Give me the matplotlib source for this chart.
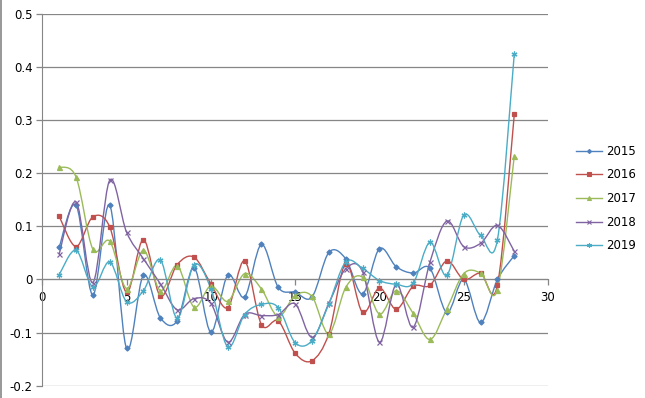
import numpy as np
import matplotlib
matplotlib.use('Agg')
import matplotlib.pyplot as plt
from matplotlib.path import Path
from matplotlib.patches import PathPatch
from matplotlib.lines import Line2D
from matplotlib.ticker import FuncFormatter

# data, x = 1..28
x = list(range(1, 29))
y2015 = [0.061, 0.14, -0.029, 0.14, -0.13, 0.008, -0.072, -0.078, 0.022, -0.099,
         0.008, -0.033, 0.066, -0.015, -0.024, -0.033, 0.051, 0.039, -0.027, 0.058,
         0.024, 0.012, 0.021, -0.062, 0.0, -0.081, 0.0, 0.045]
y2016 = [0.119, 0.062, 0.118, 0.099, -0.024, 0.075, -0.031, 0.028, 0.042, -0.008,
         -0.053, 0.035, -0.085, -0.078, -0.139, -0.153, -0.102, 0.030, -0.062, -0.016,
         -0.056, -0.013, -0.011, 0.035, 0.0, 0.012, -0.011, 0.311]
y2017 = [0.212, 0.193, 0.057, 0.072, -0.017, 0.055, -0.021, 0.026, -0.052, -0.012,
         -0.041, 0.011, -0.018, -0.07, -0.03, -0.032, -0.102, -0.015, 0.004, -0.065,
         -0.021, -0.064, -0.113, -0.055, 0.011, 0.012, -0.019, 0.233]
y2018 = [0.048, 0.146, -0.006, 0.187, 0.089, 0.039, -0.008, -0.057, -0.036, -0.045,
         -0.118, -0.066, -0.068, -0.066, -0.046, -0.109, -0.045, 0.02, 0.015, -0.118,
         -0.009, -0.09, 0.033, 0.11, 0.062, 0.068, 0.102, 0.053]
y2019 = [0.009, 0.055, -0.014, 0.033, -0.042, -0.021, 0.037, -0.073, 0.028, -0.017,
         -0.127, -0.066, -0.047, -0.053, -0.119, -0.115, -0.046, 0.033, 0.021, -0.002,
         -0.009, -0.007, 0.07, 0.008, 0.121, 0.083, 0.075, 0.425]

labels = ['2015', '2016', '2017', '2018', '2019']
series = [y2015, y2016, y2017, y2018, y2019]
colors = ['#4F81BD', '#C0504D', '#9BBB59', '#8064A2', '#4BACC6']
markers = ['D', 's', '^', 'x', (6, 2, 0)]
msizes = [2.6, 3.2, 3.6, 3.6, 4.2]


def smooth_path(xs, ys):
    # excel-like smoothed line: bezier segments, catmull-rom control points
    pts = np.column_stack([xs, ys]).astype(float)
    p = np.vstack([pts[0], pts, pts[-1]])
    verts = [pts[0]]
    codes = [Path.MOVETO]
    for i in range(1, len(p) - 2):
        c1 = p[i] + (p[i + 1] - p[i - 1]) / 6
        c2 = p[i + 1] - (p[i + 2] - p[i]) / 6
        verts += [c1, c2, p[i + 1]]
        codes += [Path.CURVE4] * 3
    return Path(verts, codes)


plt.rcParams['font.family'] = 'DejaVu Sans'
fig = plt.figure(figsize=(6.45, 3.98), dpi=100)
ax = fig.add_axes([0.0656, 0.031, 0.7840, 0.9338])

grid_c = '#868686'
for gy in np.arange(-0.2, 0.51, 0.1):
    ax.axhline(gy, color=grid_c, lw=0.9, zorder=0)

handles = []
for ys, lab, c, m, ms in zip(series, labels, colors, markers, msizes):
    ax.add_patch(PathPatch(smooth_path(x, ys), fill=False, edgecolor=c, lw=1.0, zorder=2))
    ax.plot(x, ys, linestyle='none', marker=m, markersize=ms, color=c,
            markeredgewidth=0.9, zorder=3)
    handles.append(Line2D([], [], color=c, lw=1.0, marker=m, markersize=ms * 0.8,
                          markeredgewidth=0.8, label=lab))

ax.set_xlim(0, 30)
ax.set_ylim(-0.2, 0.5)
ax.set_xticks(range(0, 31, 5))
ax.set_yticks(np.round(np.arange(-0.2, 0.51, 0.1), 1))
fmt = FuncFormatter(lambda v, pos: '%g' % round(v, 1))
ax.xaxis.set_major_formatter(fmt)
ax.yaxis.set_major_formatter(fmt)

for s in ['top', 'right']:
    ax.spines[s].set_visible(False)
ax.spines['bottom'].set_position(('data', 0))
ax.spines['bottom'].set_color(grid_c)
ax.spines['left'].set_color(grid_c)
ax.tick_params(axis='both', colors=grid_c, labelcolor='black', labelsize=8.5,
               length=4, width=0.9, direction='out')
ax.tick_params(axis='x', pad=4)
ax.tick_params(axis='y', pad=3)

fig.legend(handles=handles, loc='center left', bbox_to_anchor=(0.876, 0.501),
           frameon=False, fontsize=8.5, handlelength=2.2, handletextpad=0.35,
           labelspacing=0.9)

# chart area border on the left edge
fig.add_artist(Line2D([0.001, 0.001], [0, 1], color=grid_c, lw=1.2,
                      transform=fig.transFigure))

fig.savefig('out.png', dpi=100)
